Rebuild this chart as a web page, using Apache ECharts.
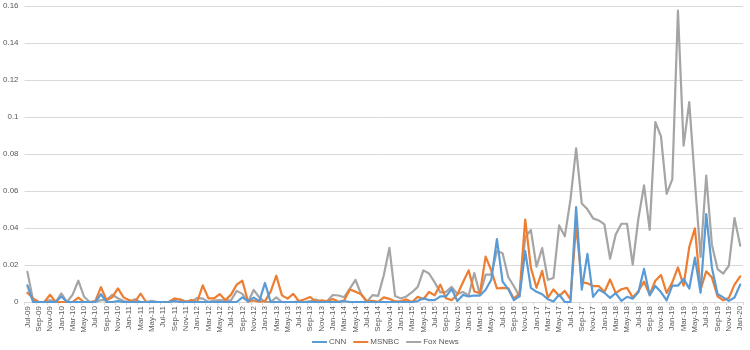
<!DOCTYPE html>
<html>
<head>
<meta charset="utf-8">
<script src="https://cdn.jsdelivr.net/npm/echarts@6/dist/echarts.min.js"></script>
<style>
  html, body { margin: 0; padding: 0; background: #ffffff; }
  #chart { width: 750px; height: 350px; }
</style>
</head>
<body>
<div id="chart"></div>
<script>
// Monthly categories, Jul-09 through Jan-20
const MONTH_NAMES = ['Jan','Feb','Mar','Apr','May','Jun','Jul','Aug','Sep','Oct','Nov','Dec'];
const months = [];
for (let y = 2009, m = 6; y < 2020 || (y === 2020 && m === 0); ) {
  months.push(MONTH_NAMES[m] + '-' + String(y % 100).padStart(2, '0'));
  m++;
  if (m === 12) { m = 0; y++; }
}

const seriesNames = ['CNN', 'MSNBC', 'Fox News'];

const cnn = [
  0.009, 0, 0, 0, 0, 0, 0.003, 0, 0, 0,
  0, 0, 0, 0.0042, 0, 0, 0.0005, 0, 0, 0,
  0, 0, 0, 0, 0, 0, 0.0005, 0, 0, 0,
  0, 0, 0, 0, 0, 0, 0, 0, 0.0025, 0.0005,
  0.0024, 0.0005, 0.0103, 0, 0, 0, 0, 0, 0, 0,
  0, 0, 0, 0, 0, 0, 0.0005, 0, 0, 0,
  0, 0, 0, 0, 0, 0, 0, 0, 0, 0.0005,
  0.002, 0.001, 0.001, 0.003, 0.003, 0.007, 0.0005, 0.0038, 0.003, 0.0035,
  0.0035, 0.0066, 0.012, 0.034, 0.011, 0.007, 0.001, 0.0032, 0.0275, 0.0076,
  0.0055, 0.0042, 0.0015, 0.0003, 0.004, 0, 0, 0.0513, 0.0067, 0.026,
  0.0028, 0.0067, 0.005, 0.0022, 0.0048, 0.0006, 0.0028, 0.0018, 0.0052, 0.0179,
  0.0036, 0.0087, 0.0054, 0.0009, 0.0088, 0.0088, 0.0125, 0.0073, 0.024, 0.005,
  0.0475, 0.0187, 0.0043, 0.0025, 0.0006, 0.0024, 0.0094
];

const msnbc = [
  0.005, 0.002, 0, 0, 0.0039, 0, 0, 0, 0, 0.0024,
  0, 0, 0.0005, 0.008, 0.001, 0.0025, 0.0074, 0.0025, 0.001, 0,
  0.0045, 0, 0, 0, 0, 0, 0.002, 0.0012, 0, 0.001,
  0, 0.009, 0.002, 0.002, 0.0043, 0.001, 0.004, 0.0094, 0.0115, 0.0003,
  0.0008, 0.0002, 0.0005, 0.0056, 0.0142, 0.0036, 0.0018, 0.0044, 0.0004, 0.0015,
  0.0027, 0.0002, 0.0009, 0.0003, 0.0016, 0.0001, 0.0008, 0.0068, 0.0056, 0.0042,
  0.0004, 0.0006, 0.0001, 0.0025, 0.0017, 0.0003, 0.0004, 0.0014, 0, 0.0028,
  0.0015, 0.0054, 0.0036, 0.0094, 0.002, 0.001, 0.0041, 0.0107, 0.0171, 0.0057,
  0.0048, 0.0245, 0.0171, 0.0073, 0.0076, 0.0074, 0.0018, 0.0047, 0.0446, 0.0186,
  0.0077, 0.0168, 0.0023, 0.0068, 0.0032, 0.006, 0.0014, 0.0416, 0.0108, 0.0101,
  0.0086, 0.0086, 0.0054, 0.0122, 0.0048, 0.0069, 0.0076, 0.0025, 0.0058, 0.011,
  0.004, 0.0115, 0.0146, 0.0049, 0.0106, 0.0187, 0.0088, 0.0297, 0.0398, 0.0067,
  0.0166, 0.0133, 0.003, 0.0009, 0.0022, 0.0094, 0.0139
];

const foxNews = [
  0.0163, 0.001, 0, 0, 0.001, 0, 0.0047, 0, 0.004, 0.0115,
  0.003, 0, 0, 0.001, 0.001, 0.0039, 0.002, 0.0005, 0, 0.0015,
  0, 0, 0.0007, 0, 0, 0, 0.0012, 0.0015, 0.0003, 0,
  0.0022, 0.0018, 0, 0.0008, 0.001, 0.0008, 0.001, 0.006, 0.0044, 0,
  0.0065, 0.0025, 0, 0, 0.0025, 0, 0, 0, 0.0003, 0,
  0.0005, 0.0013, 0, 0.0005, 0.0038, 0.0035, 0.0026, 0.0072, 0.012, 0.0042,
  0, 0.0037, 0.0033, 0.0145, 0.0293, 0.0032, 0.0019, 0.003, 0.0053, 0.0082,
  0.0171, 0.0154, 0.0106, 0.0052, 0.0055, 0.0082, 0.0043, 0.0054, 0.0035, 0.0157,
  0.004, 0.0148, 0.0148, 0.0276, 0.0264, 0.0135, 0.0085, 0.003, 0.035, 0.0389,
  0.0191, 0.0291, 0.012, 0.013, 0.0414, 0.0355, 0.0553, 0.083, 0.0532, 0.0501,
  0.0452, 0.0441, 0.042, 0.0234, 0.0365, 0.0423, 0.0423, 0.0202, 0.045, 0.063,
  0.039, 0.0973, 0.0895, 0.0584, 0.0663, 0.1575, 0.0845, 0.108, 0.065, 0.0243,
  0.0683, 0.031, 0.0178, 0.0153, 0.0196, 0.0454, 0.0305
];

const yTicks = [0, 0.02, 0.04, 0.06, 0.08, 0.1, 0.12, 0.14, 0.16];
const colors = ['#5B9BD5', '#ED7D31', '#A5A5A5'];

const chart = echarts.init(document.getElementById('chart'), null, { renderer: 'canvas' });

const lineSeries = [cnn, msnbc, foxNews].map((vals, k) => ({
  name: seriesNames[k],
  type: 'line',
  data: vals,
  symbol: 'none',
  smooth: false,
  z: 3 - k,
  lineStyle: { width: 2.2, color: colors[k], join: 'round', cap: 'round' },
  itemStyle: { color: colors[k] }
}));

chart.setOption({
  animation: false,
  backgroundColor: '#ffffff',
  textStyle: { fontFamily: 'Liberation Sans, Arial, sans-serif' },
  grid: { left: 23, right: 7, top: 6, bottom: 48, containLabel: false },
  legend: {
    data: seriesNames,
    bottom: 4,
    left: 312,
    padding: 0,
    icon: 'rect',
    itemWidth: 15,
    itemHeight: 2,
    itemGap: 7,
    textStyle: { color: '#595959', fontSize: 8, padding: [0, 0, 0, -3] }
  },
  xAxis: {
    type: 'category',
    data: months,
    boundaryGap: true,
    axisLine: { show: true, lineStyle: { color: '#D9D9D9', width: 1 } },
    axisTick: { show: true, interval: 1, length: 3, lineStyle: { color: '#D9D9D9' } },
    axisLabel: {
      interval: 1,
      rotate: 90,
      color: '#595959',
      fontSize: 8,
      margin: 4
    },
    splitLine: { show: false }
  },
  yAxis: {
    type: 'value',
    min: 0,
    max: 0.16,
    interval: 0.02,
    axisLine: { show: false },
    axisTick: { show: false },
    axisLabel: {
      color: '#595959',
      fontSize: 8,
      margin: 6,
      formatter: v => {
        const t = yTicks.find(x => Math.abs(x - v) < 1e-9);
        return String(t !== undefined ? t : v);
      }
    },
    splitLine: { lineStyle: { color: '#D9D9D9', width: 1 } }
  },
  series: lineSeries
});
</script>
</body>
</html>
